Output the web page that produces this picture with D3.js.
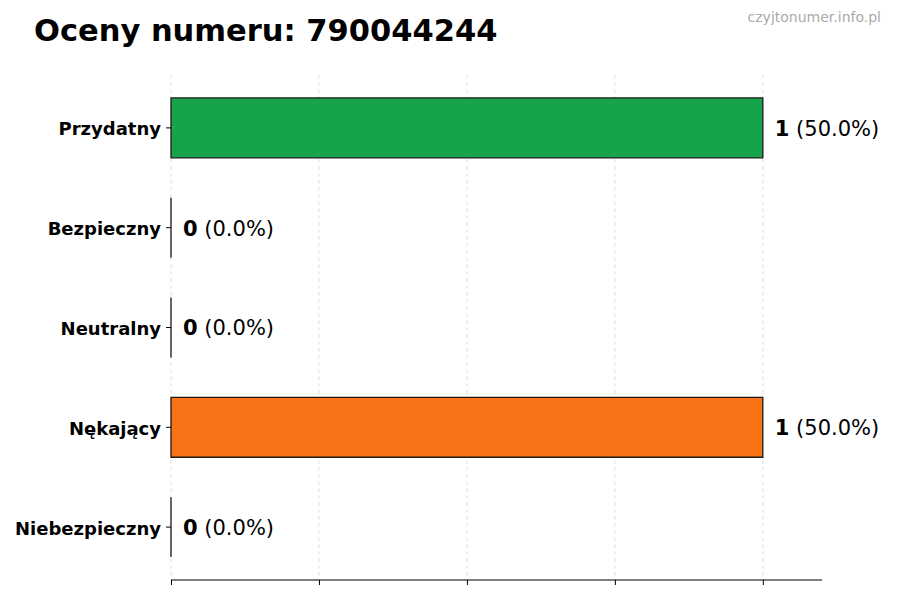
<!DOCTYPE html>
<html>
<head>
<meta charset="utf-8">
<script src="https://cdn.jsdelivr.net/npm/d3@7"></script>
<style>
  body { margin: 0; background: #fff; }
  text { font-family: "DejaVu Sans", sans-serif; }
</style>
</head>
<body>
<svg id="chart" width="900" height="600"></svg>
<script>
// dane oceny
const categories = ["Przydatny", "Bezpieczny", "Neutralny", "Nękający", "Niebezpieczny"];
const counts = [1, 0, 0, 1, 0];
const colors = ["#16a34a", "#3b82f6", "#9ca3af", "#f97316", "#dc2626"];
const xTicks = [0, 0.25, 0.5, 0.75, 1];

const total = d3.sum(counts);
const svg = d3.select("#chart");
const m = { left: 171, right: 822, top: 78, bottom: 577, axis: 580 };

const x = d3.scaleLinear().domain([0, 1.1]).range([m.left, m.right]);
const y = d3.scaleBand().domain(categories).range([m.top, m.bottom])
  .paddingInner(0.4).paddingOuter(0.2);

// siatka
svg.append("g")
  .selectAll("line")
  .data(xTicks)
  .join("line")
  .attr("x1", d => x(d)).attr("x2", d => x(d))
  .attr("y1", 75).attr("y2", m.axis)
  .attr("stroke", "#d9d9d9")
  .attr("stroke-width", 0.8)
  .attr("stroke-dasharray", "4,3");

// slupki (path, zeby zerowe tez mialy krawedz)
svg.append("g")
  .selectAll("path")
  .data(counts)
  .join("path")
  .attr("d", (d, i) => {
    const x0 = x(0), x1 = x(d), y0 = y(categories[i]), h = y.bandwidth();
    return `M${x0},${y0}H${x1}V${y0 + h}H${x0}Z`;
  })
  .attr("fill", (d, i) => colors[i])
  .attr("stroke", "#1a1a1a")
  .attr("stroke-width", 1.3);

// etykiety wartosci
const lab = svg.append("g")
  .selectAll("text")
  .data(counts)
  .join("text")
  .attr("x", d => x(d) + 12)
  .attr("y", (d, i) => y(categories[i]) + y.bandwidth() / 2)
  .attr("dy", "0.38em")
  .attr("font-size", 21)
  .attr("fill", "#000");
lab.append("tspan").attr("font-weight", "bold").text(d => d);
lab.append("tspan").text(d => " (" + (total ? d / total * 100 : 0).toFixed(1) + "%)");

// os Y
const yAxis = svg.append("g")
  .attr("transform", `translate(${m.left},0)`)
  .call(d3.axisLeft(y).tickSize(5).tickPadding(5));
yAxis.select(".domain").remove();
yAxis.selectAll("text")
  .attr("dy", "0.42em")
  .attr("font-size", 18)
  .attr("font-weight", "bold")
  .attr("fill", "#000")
  .attr("font-family", "DejaVu Sans, sans-serif");

// os X
const xAxis = svg.append("g")
  .attr("transform", `translate(0,${m.axis})`)
  .call(d3.axisBottom(x).tickValues(xTicks).tickSize(5).tickFormat(""));
xAxis.select(".domain").attr("d", `M${m.left},0H${m.right}`).attr("stroke", "#000").attr("stroke-width", 1.2);

// tytul
svg.append("text")
  .attr("x", 34).attr("y", 41)
  .attr("font-size", 30.5)
  .attr("font-weight", "bold")
  .text("Oceny numeru: 790044244");

svg.append("text")
  .attr("x", 881).attr("y", 22)
  .attr("text-anchor", "end")
  .attr("font-size", 14)
  .attr("fill", "#aaaaaa")
  .text("czyjtonumer.info.pl");
</script>
</body>
</html>
